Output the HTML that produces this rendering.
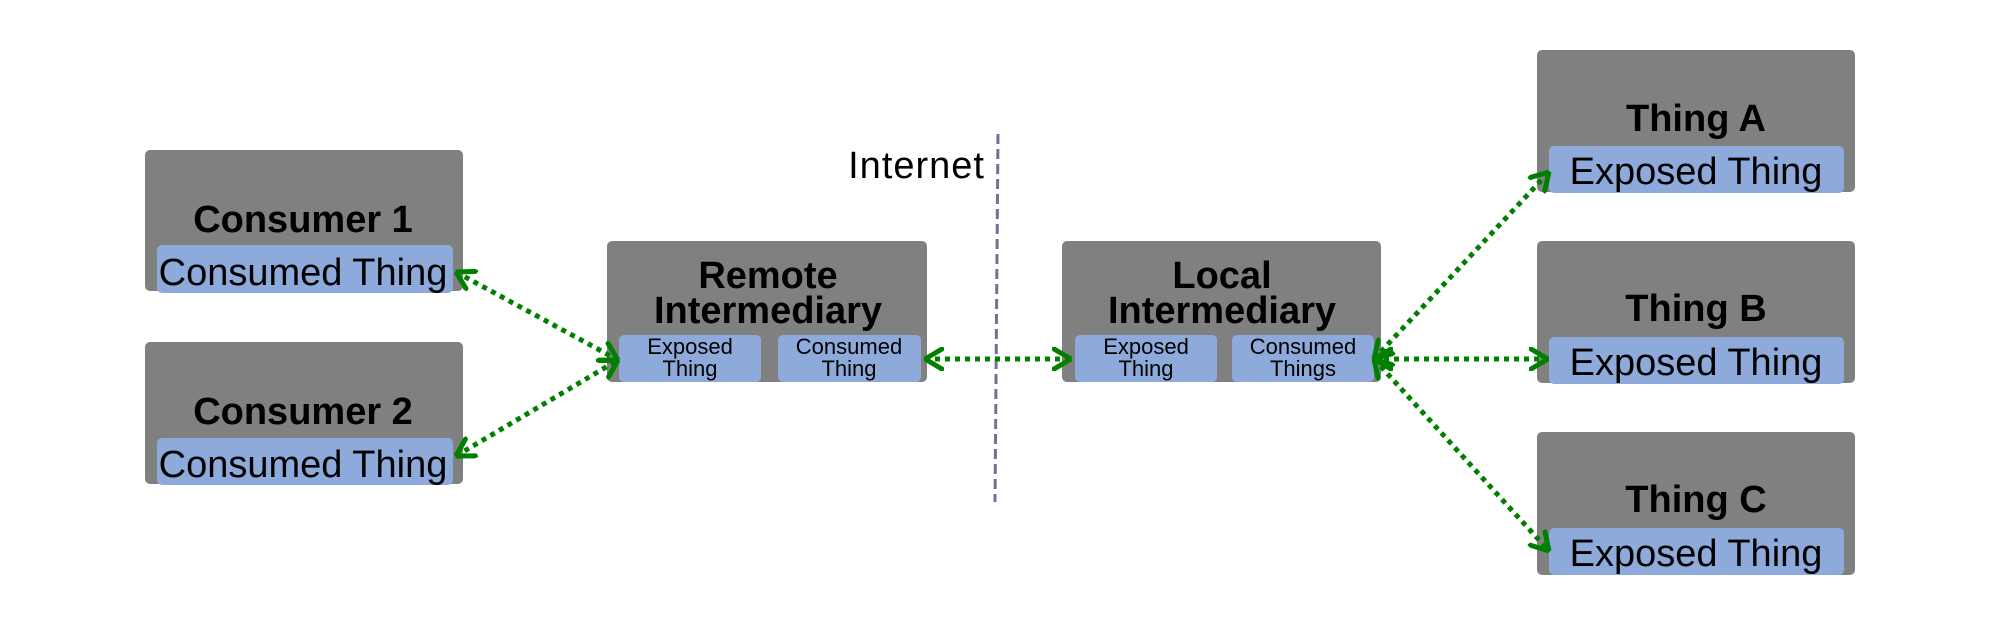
<!DOCTYPE html>
<html><head><meta charset="utf-8"><style>
html,body{margin:0;padding:0;background:#fff;}
svg{display:block;}
text{font-family:"Liberation Sans",sans-serif;fill:#000;}
.t{font-weight:bold;font-size:38px;text-anchor:middle;}
.b{font-size:38px;text-anchor:middle;}
.s{font-size:22px;text-anchor:middle;}
.g{fill:#808080;}
.bl{fill:#8eaadb;}
.ln{stroke:#008000;stroke-width:5;stroke-dasharray:5 5;fill:none;}
</style></head><body>
<svg width="2000" height="623" viewBox="0 0 2000 623" xmlns="http://www.w3.org/2000/svg">
<defs>
<marker id="m" viewBox="0 0 20 24" refX="19" refY="12" markerWidth="20" markerHeight="24" markerUnits="userSpaceOnUse" orient="auto-start-reverse">
<path d="M2 2 L19 12 L2 22" stroke="#008000" stroke-width="5" fill="none" stroke-linecap="round" stroke-linejoin="round"/>
</marker>
</defs>
<rect class="g" x="145" y="150" width="318" height="141" rx="5"/>
<text class="t" x="303" y="232">Consumer 1</text>
<rect class="bl" x="157" y="245" width="296" height="48" rx="5"/>
<text class="b" x="303" y="285">Consumed Thing</text>
<rect class="g" x="145" y="342" width="318" height="142" rx="5"/>
<text class="t" x="303" y="424">Consumer 2</text>
<rect class="bl" x="157" y="438" width="296" height="47" rx="5"/>
<text class="b" x="303" y="477">Consumed Thing</text>
<rect class="g" x="607" y="241" width="320" height="141" rx="5"/>
<text class="t" x="768" y="288">Remote</text>
<text class="t" x="768" y="323">Intermediary</text>
<rect class="bl" x="619" y="335" width="142" height="47" rx="5"/>
<text class="s" x="690" y="354">Exposed</text>
<text class="s" x="690" y="376">Thing</text>
<rect class="bl" x="778" y="335" width="143" height="47" rx="5"/>
<text class="s" x="849" y="354">Consumed</text>
<text class="s" x="849" y="376">Thing</text>
<text x="985" y="178" style="font-size:38px;text-anchor:end;letter-spacing:1px;">Internet</text>
<line x1="998" y1="134" x2="995" y2="502" stroke="#6b7399" stroke-width="3" stroke-dasharray="10 5"/>
<rect class="g" x="1062" y="241" width="319" height="141" rx="5"/>
<text class="t" x="1222" y="288">Local</text>
<text class="t" x="1222" y="323">Intermediary</text>
<rect class="bl" x="1075" y="335" width="142" height="47" rx="5"/>
<text class="s" x="1146" y="354">Exposed</text>
<text class="s" x="1146" y="376">Thing</text>
<rect class="bl" x="1232" y="335" width="142" height="47" rx="5"/>
<text class="s" x="1303" y="354">Consumed</text>
<text class="s" x="1303" y="376">Things</text>
<rect class="g" x="1537" y="50" width="318" height="142" rx="5"/>
<text class="t" x="1696" y="131">Thing A</text>
<rect class="bl" x="1549" y="146" width="295" height="47" rx="5"/>
<text class="b" x="1696" y="184">Exposed Thing</text>
<rect class="g" x="1537" y="241" width="318" height="142" rx="5"/>
<text class="t" x="1696" y="321">Thing B</text>
<rect class="bl" x="1549" y="337" width="295" height="47" rx="5"/>
<text class="b" x="1696" y="375">Exposed Thing</text>
<rect class="g" x="1537" y="432" width="318" height="143" rx="5"/>
<text class="t" x="1696" y="512">Thing C</text>
<rect class="bl" x="1549" y="528" width="295" height="47" rx="5"/>
<text class="b" x="1696" y="566">Exposed Thing</text>
<line class="ln" x1="456" y1="272" x2="618" y2="360" marker-start="url(#m)" marker-end="url(#m)"/>
<line class="ln" x1="456" y1="456" x2="618" y2="360" marker-start="url(#m)" marker-end="url(#m)"/>
<line class="ln" x1="925" y1="359" x2="1071" y2="359" marker-start="url(#m)" marker-end="url(#m)"/>
<line class="ln" x1="1374" y1="359" x2="1549" y2="172" marker-start="url(#m)" marker-end="url(#m)"/>
<line class="ln" x1="1374" y1="359" x2="1548" y2="359" marker-start="url(#m)" marker-end="url(#m)"/>
<line class="ln" x1="1374" y1="359" x2="1549" y2="551" marker-start="url(#m)" marker-end="url(#m)"/>
</svg>
</body></html>
